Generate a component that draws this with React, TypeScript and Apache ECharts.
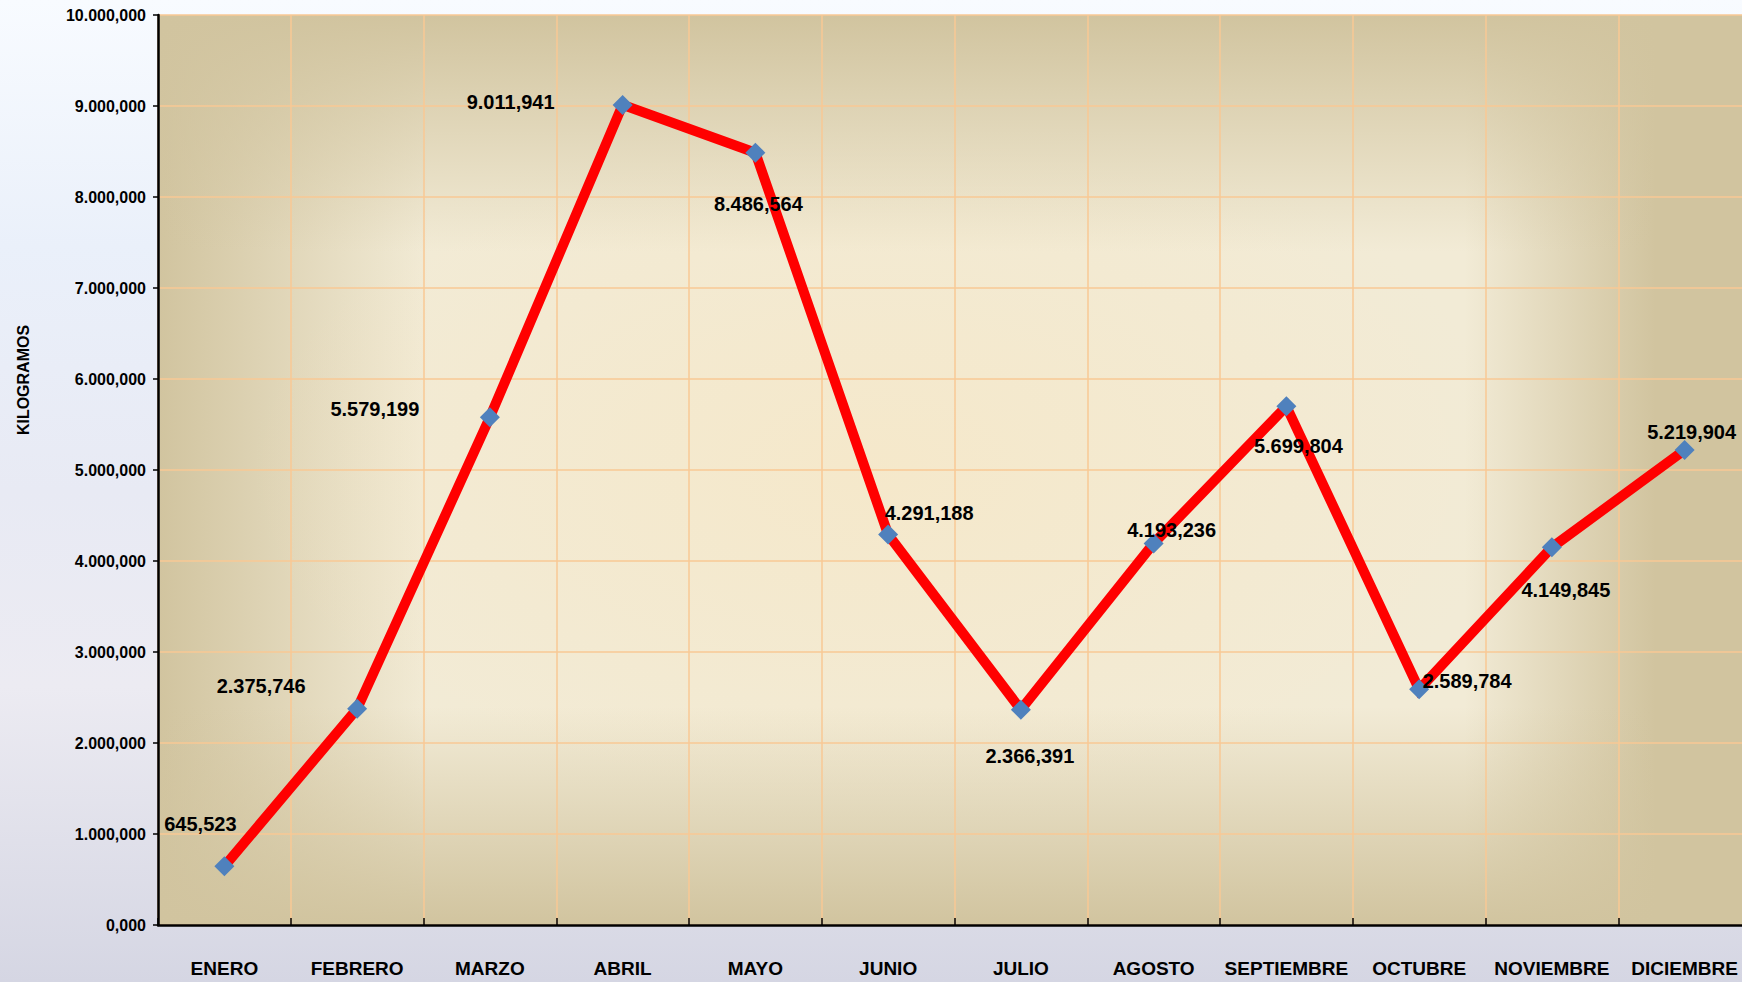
import React, { useEffect, useRef } from "react";
import * as echarts from "echarts";

const months = [
  "ENERO", "FEBRERO", "MARZO", "ABRIL", "MAYO", "JUNIO",
  "JULIO", "AGOSTO", "SEPTIEMBRE", "OCTUBRE", "NOVIEMBRE", "DICIEMBRE",
];
const kilos = [
  645523, 2375746, 5579199, 9011941, 8486564, 4291188,
  2366391, 4193236, 5699804, 2589784, 4149845, 5219904,
];
const yMin = 0;
const yMax = 10000000;
const yStep = 1000000;
const yName = "KILOGRAMOS";

// label offsets (pixels) relative to each marker
const labelOffsets: [number, number][] = [
  [-24, -42], [-96, -23], [-115, -8], [-112, -3], [3, 51], [41, -22],
  [9, 46], [18, -13], [12, 40], [48, -8], [14, 43], [7, -18],
];

function fmt(v: number): string {
  if (v === 0) return "0,000";
  const s = Math.round(v).toString();
  const groups: string[] = [];
  let i = s.length;
  while (i > 0) {
    groups.unshift(s.slice(Math.max(0, i - 3), i));
    i -= 3;
  }
  if (groups.length === 1) return groups[0];
  const last = groups.pop() as string;
  return groups.join(".") + "," + last;
}

const FONT = "'Liberation Sans', Arial, Helvetica, sans-serif";

const CHART_W = 1760;
const GRID_LEFT = 158;
const GRID_TOP = 15;
const GRID_W = 1593;
const GRID_H = 910;
const DARK = "#D1C49F";
const LIGHT = "#F2EBD6";

export default function App() {
  const ref = useRef<HTMLDivElement>(null);
  useEffect(() => {
    document.body.style.margin = "0";
    if (!ref.current) return;
    const chart = echarts.init(ref.current, undefined, { renderer: "svg" });
    chart.setOption({
      animation: false,
      grid: { left: GRID_LEFT, top: GRID_TOP, width: GRID_W, height: GRID_H },
      graphic: [
        {
          type: "rect",
          z: -10,
          silent: true,
          shape: { x: GRID_LEFT, y: GRID_TOP, width: GRID_W, height: GRID_H },
          style: {
            fill: {
              type: "linear", x: 0, y: 0, x2: 1, y2: 0,
              colorStops: [
                { offset: 0, color: DARK },
                { offset: 0.17, color: LIGHT },
                { offset: 0.82, color: LIGHT },
                { offset: 0.94, color: DARK },
                { offset: 1, color: DARK },
              ],
            },
          },
        },
        {
          type: "rect",
          z: -9,
          silent: true,
          shape: { x: GRID_LEFT, y: GRID_TOP, width: GRID_W, height: GRID_H },
          style: {
            fill: {
              type: "radial", x: 0.45, y: 0.5, r: 0.4,
              colorStops: [
                { offset: 0, color: "rgba(250,228,185,0.4)" },
                { offset: 1, color: "rgba(250,228,185,0)" },
              ],
            },
          },
        },
        {
          type: "rect",
          z: -8,
          silent: true,
          shape: { x: GRID_LEFT, y: GRID_TOP, width: GRID_W, height: GRID_H },
          style: {
            fill: {
              type: "linear", x: 0, y: 0, x2: 0, y2: 1,
              colorStops: [
                { offset: 0, color: "rgba(209,196,159,1)" },
                { offset: 0.26, color: "rgba(209,196,159,0)" },
                { offset: 0.76, color: "rgba(209,196,159,0)" },
                { offset: 1, color: "rgba(209,196,159,1)" },
              ],
            },
          },
        },
        {
          type: "text",
          z: 10,
          x: 23,
          y: 380,
          rotation: Math.PI / 2,
          style: {
            text: yName,
            fill: "#000",
            font: `bold 16px ${FONT}`,
            align: "center",
            verticalAlign: "middle",
          },
        },
      ],
      xAxis: {
        type: "category",
        data: months,
        boundaryGap: true,
        axisLine: { show: true, lineStyle: { color: "#000", width: 2.5 } },
        axisTick: { show: true, inside: true, length: 7, lineStyle: { color: "#000", width: 1.5 } },
        splitLine: { show: true, interval: 0, lineStyle: { color: "#F8C895", width: 1.5 } },
        axisLabel: {
          interval: 0,
          color: "#000",
          fontFamily: FONT,
          fontWeight: "bold",
          fontSize: 19,
          lineHeight: 19,
          margin: 34,
        },
      },
      yAxis: {
        type: "value",
        min: yMin,
        max: yMax,
        interval: yStep,
        axisLine: { show: true, lineStyle: { color: "#000", width: 2.5 } },
        axisTick: { show: true, inside: false, length: 5, lineStyle: { color: "#000", width: 1.5 } },
        splitLine: { show: true, lineStyle: { color: "#F8C895", width: 1.5 } },
        axisLabel: {
          color: "#000",
          fontFamily: FONT,
          fontWeight: "bold",
          fontSize: 16,
          margin: 12,
          formatter: (v: number) => fmt(v),
        },
      },
      series: [
        {
          type: "line",
          data: kilos.map((v, i) => ({
            value: v,
            label: { offset: labelOffsets[i] },
          })),
          symbol: "diamond",
          symbolSize: 20,
          itemStyle: { color: "#4F81BD" },
          lineStyle: { color: "#FF0000", width: 10, join: "miter" },
          z: 5,
          label: {
            show: true,
            position: "inside",
            color: "#000",
            fontFamily: FONT,
            fontWeight: "bold",
            fontSize: 20,
            formatter: (p: any) => fmt(p.value),
          },
        },
      ],
    });
    return () => chart.dispose();
  }, []);
  return (
    <div
      style={{
        width: 1742,
        height: 982,
        overflow: "hidden",
        background:
          "linear-gradient(to bottom, #F8FBFF 0%, #EAF0FA 25%, #E8EAF4 50%, #ECEBF2 70%, #D5D6E3 100%)",
      }}
    >
      <div ref={ref} style={{ width: CHART_W, height: 982 }} />
    </div>
  );
}
